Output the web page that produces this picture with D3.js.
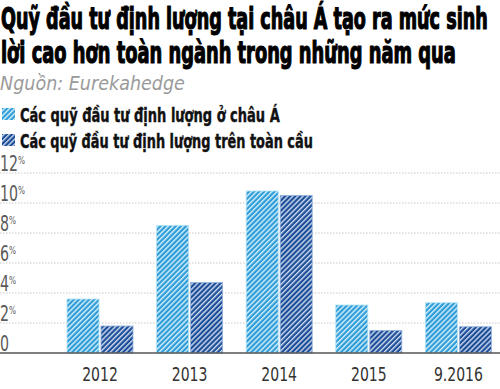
<!DOCTYPE html>
<html><head><meta charset="utf-8">
<script src="https://cdn.jsdelivr.net/npm/d3@7"></script>
<style>
html,body{margin:0;padding:0;background:#fff;}
svg{display:block;}
</style></head>
<body>
<div id="chart"></div>
<script>
const titleLines = ["Quỹ đầu tư định lượng tại châu Á tạo ra mức sinh", "lời cao hơn toàn ngành trong những năm qua"];
const sourceText = "Nguồn: Eurekahedge";
const categories = ["2012", "2013", "2014", "2015", "9.2016"];
const seriesNames = ["Các quỹ đầu tư định lượng ở châu Á", "Các quỹ đầu tư định lượng trên toàn cầu"];
const asiaValues = [3.6, 8.5, 10.8, 3.2, 3.35];
const globalValues = [1.8, 4.7, 10.5, 1.5, 1.75];
const yTicks = [0, 2, 4, 6, 8, 10, 12];

const W = 500, H = 389;
const condensed = "'DejaVu Sans Condensed', 'DejaVu Sans', sans-serif";

const svg = d3.select("#chart").append("svg").attr("width", W).attr("height", H);
const defs = svg.append("defs");

// squeeze a text horizontally so that it spans targetWidth, anchored at x0
function fitWidth(textSel, x0, targetWidth) {
  const n = textSel.node();
  const w = n.getComputedTextLength();
  const s = targetWidth / w;
  textSel.attr("transform", `translate(${x0},0) scale(${s},1) translate(${-x0},0)`);
}

const palettes = [
  {id: "patA", base: "#2e9bd7", stripe: "#d4f1fc", edge: "#b0e2f6"},
  {id: "patB", base: "#1b4c96", stripe: "#cfdcf2", edge: "#8fb0de"}
];
palettes.forEach(p => {
  const pat = defs.append("pattern").attr("id", p.id).attr("patternUnits", "userSpaceOnUse")
    .attr("width", 3.6).attr("height", 3.6).attr("patternTransform", "rotate(45)");
  pat.append("rect").attr("width", 3.6).attr("height", 3.6).attr("fill", p.base);
  pat.append("rect").attr("x", 0).attr("width", 1.4).attr("height", 3.6).attr("fill", p.stripe);
});

// Title
const titleBaselines = [29, 63], titleWidths = [487, 455];
titleLines.forEach((t, i) => {
  const tx = svg.append("text").attr("x", 1).attr("y", titleBaselines[i])
    .attr("font-family", condensed).attr("font-weight", "bold").attr("font-size", 30)
    .attr("fill", "#000").attr("stroke", "#000").attr("stroke-width", 1.2)
    .attr("stroke-linejoin", "round").text(t);
  fitWidth(tx, 1, titleWidths[i]);
});
const src = svg.append("text").attr("x", 0).attr("y", 90)
  .attr("font-family", condensed).attr("font-style", "italic").attr("font-size", 20)
  .attr("fill", "#9a9a9a").text(sourceText);
fitWidth(src, 0, 185);

// Legend
const legendY = [122, 148], legendWidths = [260, 293];
seriesNames.forEach((s, i) => {
  svg.append("rect").attr("x", 2).attr("y", legendY[i] - 14).attr("width", 13).attr("height", 12)
    .attr("fill", `url(#${palettes[i].id})`);
  const lt = svg.append("text").attr("x", 20).attr("y", legendY[i])
    .attr("font-family", condensed).attr("font-weight", "bold").attr("font-size", 19)
    .attr("fill", "#111").attr("stroke", "#111").attr("stroke-width", 0.4).text(s);
  fitWidth(lt, 20, legendWidths[i]);
});

// Scales
const y = d3.scaleLinear().domain([0, 12]).range([353, 173]);
const x0 = d3.scaleBand().domain(categories).range([55.2, 503.2]).padding(0);
const x1 = d3.scaleBand().domain([0, 1]).range([-33, 33]).paddingInner(2 / 34).paddingOuter(0);

// Gridlines
const grid = svg.append("g");
grid.selectAll("line").data(yTicks.filter(d => d > 0)).join("line")
  .attr("x1", 0).attr("x2", W).attr("y1", d => y(d)).attr("y2", d => y(d))
  .attr("stroke", "#c8c8c8").attr("stroke-width", 1).attr("stroke-dasharray", "1.5,1.5");

// Y tick labels
yTicks.forEach(d => {
  const t = svg.append("text").attr("x", 0).attr("y", y(d) - 1.5)
    .attr("font-family", condensed).attr("font-size", 21).attr("fill", "#5a5a5a");
  t.append("tspan").text(d);
  if (d > 0) t.append("tspan").attr("font-size", 11).attr("dy", -7).text("%");
  t.attr("transform", "scale(0.75,1)");
});

// Bars
const data = categories.map((c, i) => ({cat: c, vals: [asiaValues[i], globalValues[i]]}));
const groups = svg.append("g").selectAll("g").data(data).join("g")
  .attr("transform", d => `translate(${x0(d.cat) + x0.bandwidth() / 2},0)`);
groups.selectAll("rect").data(d => d.vals.map((v, k) => ({v, k}))).join("rect")
  .attr("x", d => x1(d.k)).attr("width", x1.bandwidth())
  .attr("y", d => y(d.v)).attr("height", d => y(0) - y(d.v))
  .attr("fill", d => `url(#${palettes[d.k].id})`)
  .attr("stroke", d => palettes[d.k].edge).attr("stroke-width", 0.8);

// Axis baseline
svg.append("line").attr("x1", 0).attr("x2", W).attr("y1", y(0)).attr("y2", y(0))
  .attr("stroke", "#555").attr("stroke-width", 1.5);

// X labels via axis
const xAxis = svg.append("g").attr("transform", `translate(0,${y(0)})`)
  .call(d3.axisBottom(x0).tickSize(0).tickPadding(0));
xAxis.select(".domain").remove();
xAxis.selectAll(".tick text").attr("y", 28.5).attr("dy", 0)
  .attr("font-family", condensed).attr("font-size", 19.5).attr("fill", "#333")
  .attr("transform", "scale(0.8,1)");
</script>
</body></html>
